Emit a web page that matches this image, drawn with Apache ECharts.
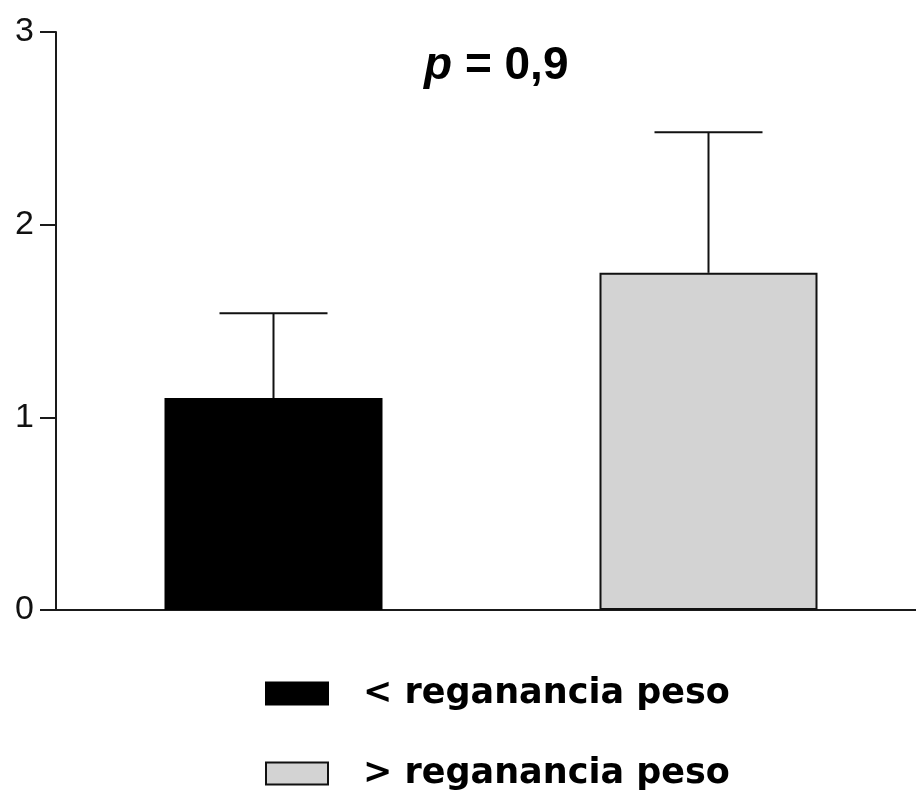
<!DOCTYPE html>
<html>
<head>
<meta charset="utf-8">
<script src="https://cdn.jsdelivr.net/npm/echarts@6/dist/echarts.min.js"></script>
<style>html,body{margin:0;padding:0;background:#fff;}#c{width:916px;height:800px;}</style>
</head>
<body>
<div id="c"></div>
<script>
var categories = ['< reganancia peso', '> reganancia peso'];
var means = [1.10, 1.75];
var errTops = [1.54, 2.48];
var yTicks = [0, 1, 2, 3];
var pLabel = '0,9';

var chart = echarts.init(document.getElementById('c'));
var font = 'Arial';
var legendFont = 'DejaVu Sans';
var errData = means.map(function (m, i) { return [i, m, errTops[i]]; });

chart.setOption({
  animation: false,
  backgroundColor: '#fff',
  textStyle: { fontFamily: font },
  title: {
    left: 419, top: 38,
    text: '{i|p}{n| = ' + pLabel + '}',
    textStyle: {
      fontFamily: font,
      rich: {
        i: { fontFamily: font, fontSize: 46, fontWeight: 'bold', fontStyle: 'italic', color: '#000' },
        n: { fontFamily: font, fontSize: 46, fontWeight: 'bold', color: '#000' }
      }
    }
  },
  grid: { left: 56, width: 870, top: 32, height: 578, containLabel: false, outerBoundsMode: 'none' },
  xAxis: {
    type: 'category', data: categories,
    axisLine: { lineStyle: { color: '#1a1a1a', width: 2 } },
    axisTick: { show: false }, axisLabel: { show: false }
  },
  yAxis: {
    type: 'value', min: yTicks[0], max: yTicks[yTicks.length - 1], interval: 1,
    splitLine: { show: false },
    axisLine: { show: true, lineStyle: { color: '#1a1a1a', width: 2 } },
    axisTick: { show: true, length: 16, lineStyle: { color: '#1a1a1a', width: 2 } },
    axisLabel: { fontFamily: font, fontSize: 34, color: '#111', margin: 22 }
  },
  legend: {
    orient: 'vertical', left: 265, top: 676, padding: 0,
    itemWidth: 62, itemHeight: 22, itemGap: 45,
    icon: 'rect',
    data: categories,
    textStyle: { fontFamily: legendFont, fontSize: 35, fontWeight: 'bold', color: '#000', padding: [0, 0, 20, 30] }
  },
  series: [
    {
      name: categories[0], type: 'bar', data: [means[0], '-'], barWidth: 218, barGap: '-100%',
      itemStyle: { color: '#000', borderColor: '#000', borderWidth: 2 }
    },
    {
      name: categories[1], type: 'bar', data: ['-', means[1]], barWidth: 218, barGap: '-100%',
      itemStyle: { color: '#d3d3d3', borderColor: '#111', borderWidth: 2 }
    },
    {
      type: 'custom', data: errData, z: 5,
      renderItem: function (params, api) {
        var x = api.value(0);
        var b = api.coord([x, api.value(1)]);
        var t = api.coord([x, api.value(2)]);
        var hw = 54;
        var st = { stroke: '#111', lineWidth: 2 };
        return {
          type: 'group',
          children: [
            { type: 'line', shape: { x1: b[0], y1: b[1], x2: t[0], y2: t[1] }, style: st },
            { type: 'line', shape: { x1: t[0] - hw, y1: t[1], x2: t[0] + hw, y2: t[1] }, style: st }
          ]
        };
      }
    }
  ]
});
</script>
</body>
</html>
